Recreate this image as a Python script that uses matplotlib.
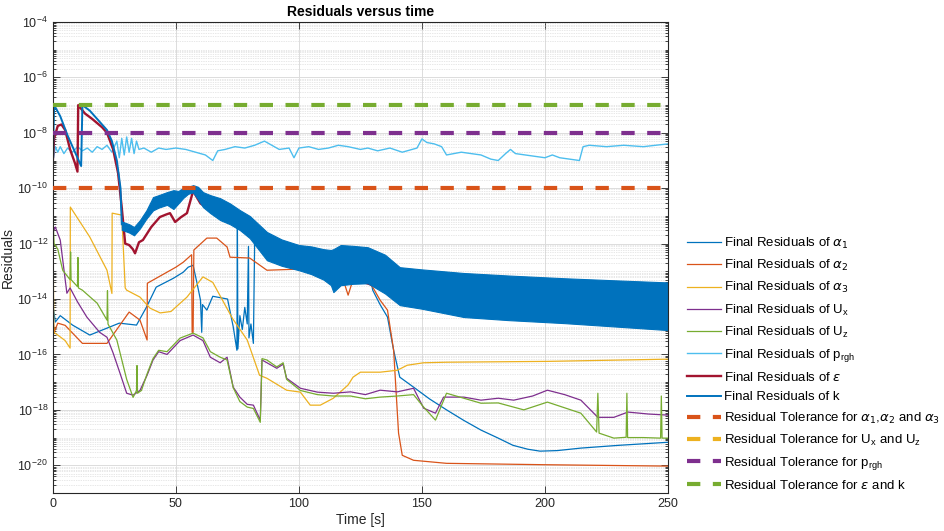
import numpy as np
import matplotlib
matplotlib.use('Agg')
import matplotlib.pyplot as plt
from matplotlib.ticker import LogLocator, NullFormatter, FixedLocator

plt.rcParams['font.family'] = ['Liberation Sans', 'DejaVu Sans']
plt.rcParams['mathtext.fontset'] = 'dejavusans'

# colours (MATLAB default order)
c_a1 = '#0072BD'
c_a2 = '#D95319'
c_a3 = '#EDB120'
c_ux = '#7E2F8E'
c_uz = '#77AC30'
c_p = '#4DBEEE'
c_eps = '#A2142F'
c_k = '#0072BD'

# ---- data: time [s] and log10(residual) ----
a1_t = [0, 1, 3, 8, 15, 22, 27, 34, 38, 42, 49, 53, 55, 57, 58.6, 60, 60.5, 60.8, 62.6, 65, 68, 71,
        73.3, 74.8, 75.0, 75.2, 76, 77, 78, 79, 79.5, 79.7, 80.5, 81.5, 82, 90, 100, 110, 120, 129,
        130, 133, 136, 138.5, 141, 146.6, 153, 160, 167, 174, 181, 187, 193, 198, 205, 214.6, 230, 250]
a1_e = [-14.2, -14.83, -14.6, -14.94, -15.3, -15.05, -14.87, -14.94, -14.3, -13.57, -13.25, -13.03, -12.85,
        -12.78, -13.43, -14.04, -15.2, -14.2, -14.4, -13.9, -13.95, -14.0,
        -15.0, -15.85, -11.4, -15.8, -14.6, -15.1, -14.3, -14.9, -12.1, -15.4, -14.9, -15.6, -12.0, -12.2,
        -12.5, -12.8, -12.9, -13.2,
        -13.68, -14.2, -14.65, -15.85, -16.82, -17.18, -17.6, -18.0, -18.38, -18.73, -19.02, -19.28, -19.42,
        -19.49, -19.47, -19.38, -19.28, -19.17]

a2_t = [0, 0.5, 2, 5, 12, 22, 31, 35.4, 38.3, 38.4, 42, 46.4, 50, 53, 56.4, 56.6, 57.0, 57.3, 62.6, 66.6,
        70.8, 72, 80, 87, 100, 110, 118, 120, 122, 128, 130, 133, 136, 138.5, 140.5, 142, 146.6, 160, 200, 250]
a2_e = [-14.5, -15.2, -14.87, -14.95, -15.6, -15.6, -14.47, -14.76, -15.48, -13.43, -13.25, -13.03, -12.85,
        -12.67, -12.4, -15.2, -15.2, -12.23, -11.8, -11.8,
        -12.12, -12.49, -12.52, -12.96, -12.92, -13.1, -13.3, -13.86, -13.3, -13.4, -13.57, -14.04, -14.4,
        -15.85, -18.84, -19.64, -19.82, -19.93, -19.98, -20.03]

a3_t = [0, 0.4, 2, 5, 7, 7.1, 15, 22, 24, 24.1, 28, 29.4, 30, 35.4, 39.5, 43.6, 48, 54.5, 61, 65, 73, 79,
        84, 87, 95, 100.6, 104.6, 108.7, 114, 120, 122, 125, 133, 140, 144, 150.7, 160, 201, 250]
a3_e = [-10.9, -15.2, -15.3, -15.5, -15.77, -10.68, -11.76, -12.96, -13.8, -10.9, -10.97, -13.6, -13.68,
        -13.93, -14.33, -14.5, -14.45, -13.93, -13.2, -13.4, -14.7, -15.48,
        -16.75, -16.86, -17.29, -17.36, -17.83, -17.83, -17.58, -17.1, -16.82, -16.64, -16.64, -16.57,
        -16.39, -16.3, -16.28, -16.25, -16.17]

ux_t = [0, 1, 3, 5.7, 7, 10, 13.8, 19, 22, 24.5, 27.3, 30, 32.6, 35.4, 38.3, 40.7, 43, 46.4, 51.7, 57,
        61, 64, 68, 70.8, 73.3, 76, 79, 81.5, 84.3, 85, 87, 91, 93.6, 95, 100.6, 107.5, 114, 121, 127,
        133, 140, 146.6, 150.7, 155.5, 158.8, 167, 174, 181, 187.3, 195, 201, 208, 214.6, 221.5, 228,
        233.7, 242, 250]
ux_e = [-11.6, -11.4, -11.87, -13.79, -13.6, -14.1, -14.65, -15.2, -15.38, -15.95, -16.68, -17.4, -17.47,
        -17.3, -16.75, -16.2, -15.9, -16.0, -15.5, -15.3,
        -15.5, -16.1, -16.3, -16.1, -17.18, -17.54, -17.8, -17.83, -18.37, -16.2, -16.3, -16.5, -16.35,
        -16.86, -17.22, -17.36, -17.4, -17.35, -17.45,
        -17.29, -17.35, -17.22, -17.94, -18.12, -17.54, -17.54, -17.65, -17.58, -17.65, -17.5, -17.29,
        -17.45, -17.65, -18.27, -18.27, -18.08, -18.15, -18.19]

uz_t = [0, 0.5, 2, 4, 7, 7.2, 7.4, 10, 10.2, 10.4, 12, 18, 22, 22.2, 22.4, 26, 30, 32.6, 34, 34.2, 34.4,
        36, 38.3, 40.7, 43, 46.4, 51.7, 57, 61, 64, 68, 70.8, 73.3, 76, 79, 81.5, 84.3, 85, 87, 91, 93.6,
        95, 100.6, 107.5, 114, 121, 127, 133, 140, 146.6, 150.7, 155.5, 160, 174, 181, 191.4, 201, 214.6,
        221, 221.5, 222, 228, 233, 233.3, 233.6, 240, 247, 247.3, 247.6, 250]
uz_e = [-11.0, -12.0, -12.2, -12.96, -13.3, -12.3, -13.3, -13.55, -12.5, -13.6, -13.68, -14.15, -14.76,
        -13.7, -14.9, -15.48, -16.9, -17.55, -17.3, -16.4, -17.4,
        -17.3, -16.7, -16.15, -15.85, -15.9, -15.41, -15.23, -15.4, -15.9, -16.1, -16.2, -17.2, -17.7,
        -17.9, -17.95, -18.45, -16.15, -16.2, -16.45, -16.3,
        -16.9, -17.3, -17.45, -17.5, -17.5, -17.6, -17.54, -17.5, -17.45, -17.9, -18.37, -17.4, -17.76,
        -17.75, -18.0, -17.72, -18.12,
        -18.8, -17.4, -18.84, -19.02, -18.99, -17.4, -19.0, -19.0, -19.02, -17.5, -19.02, -19.02]

p_t = [0, 0.3, 1, 2, 3, 4.5, 6, 8, 10, 12, 14, 16, 18, 20, 22, 24, 26, 27, 28, 29, 30, 31, 32, 33, 34, 35,
       37, 40, 43, 46, 50, 54, 58, 62, 65, 67, 70, 74, 78, 82, 86, 88, 92, 96, 98, 100, 104, 108, 112, 116,
       120, 125, 128, 132, 137, 142, 148, 150, 152, 155, 158, 160, 163, 166, 170, 174, 178, 181, 184, 186,
       188, 192, 196, 200, 203, 206, 210, 214, 215.5, 218, 225, 232, 240, 245, 250]
p_e = [-8.4, -8.9, -8.5, -8.7, -8.5, -8.75, -8.55, -8.7, -8.5, -8.65, -8.55, -8.7, -8.5, -8.6, -8.45, -8.7,
       -8.3, -8.9, -8.2, -8.8, -8.15, -8.7, -8.2, -8.75, -8.3, -8.6,
       -8.55, -8.7, -8.55, -8.6, -8.55, -8.6, -8.7, -8.8, -9.0, -8.65, -8.6, -8.5, -8.55, -8.45, -8.3, -8.4,
       -8.6, -8.55, -8.9, -8.55, -8.5, -8.6, -8.55, -8.45,
       -8.5, -8.6, -8.55, -8.65, -8.55, -8.7, -8.55, -8.22, -8.35, -8.4, -8.5, -8.8, -8.75, -8.7, -8.75,
       -8.8, -8.95, -9.0, -8.75, -8.6,
       -8.75, -8.8, -8.85, -8.9, -8.8, -8.9, -8.95, -9.0, -8.5, -8.45, -8.5, -8.45, -8.5, -8.45, -8.4]

eps_t = [0, 0.5, 2, 3.5, 5, 7, 9, 10, 10.3, 13, 16, 20, 22, 24.5, 26.5, 28, 29.4, 31, 32.5, 33.4, 35, 36.6,
         40, 43.5, 46, 47.6, 49.7, 52, 54.5, 57, 60, 66, 72, 80, 100, 140, 250]
eps_e = [-9.0, -8.2, -7.75, -7.7, -7.9, -8.6, -9.1, -9.4, -7.0, -7.3, -7.5, -7.8, -8.0, -8.6, -9.45, -10.7,
         -12.0, -12.05, -12.2, -12.35, -11.95, -11.87,
         -11.4, -11.04, -10.95, -10.9, -11.22, -11.05, -10.9, -10.1, -10.55, -10.9, -11.2, -11.5, -12.6,
         -13.8, -14.5]

k_t = [0, 0.5, 3, 6, 9, 11.5, 12, 15, 19, 22, 24, 26, 27.5, 28]
k_e = [-9.0, -7.0, -7.4, -8.1, -8.7, -9.2, -7.0, -7.2, -7.6, -7.9, -8.3, -9.0, -10.0, -11.3]

# oscillating band of k: upper / lower envelope
kb_t = [28, 31, 33, 35.4, 38, 40.7, 43, 46.4, 49, 51, 53, 55, 57, 59, 61, 64, 68, 72, 76, 80, 87, 93,
        100, 105, 110, 113, 114, 117, 122, 128, 135, 141, 150, 167, 185, 208, 230, 250]
kb_hi = [-11.2, -11.3, -11.4, -11.15, -10.8, -10.32, -10.25, -10.14, -10.07, -10.1, -9.99, -9.95, -9.89,
         -9.95, -10.14, -10.25, -10.36, -10.55, -10.79, -11.0, -11.58, -11.85,
         -12.05, -12.1, -12.2, -12.23, -12.2, -12.05, -12.08, -12.13, -12.4, -12.85, -12.93, -13.06,
         -13.15, -13.25, -13.33, -13.4]
kb_lo = [-11.5, -11.6, -11.7, -11.45, -11.1, -10.8, -10.7, -10.6, -10.75, -10.55, -10.35, -10.2, -10.15,
         -10.4, -10.68, -10.9, -11.15, -11.3, -11.51, -11.8, -12.6, -12.8,
         -12.96, -13.1, -13.3, -13.5, -13.75, -13.5, -13.45, -13.43, -13.8, -14.22, -14.35, -14.65,
         -14.76, -14.87, -15.0, -15.12]

# tolerances
tol_alpha = 1e-10
tol_u = 1e-3
tol_p = 1e-8
tol_epsk = 1e-7

labels = [r'Final Residuals of $\alpha_1$', r'Final Residuals of $\alpha_2$',
          r'Final Residuals of $\alpha_3$', r'Final Residuals of U$_\mathregular{x}$',
          r'Final Residuals of U$_\mathregular{z}$', r'Final Residuals of p$_\mathregular{rgh}$',
          r'Final Residuals of $\epsilon$', 'Final Residuals of k',
          r'Residual Tolerance for $\alpha_1$,$\alpha_2$ and $\alpha_3$',
          r'Residual Tolerance for U$_\mathregular{x}$ and U$_\mathregular{z}$',
          r'Residual Tolerance for p$_\mathregular{rgh}$',
          r'Residual Tolerance for $\epsilon$ and k']


def pw(e):
    return 10.0 ** np.array(e)


fig = plt.figure(figsize=(9.44, 5.31), dpi=100)
ax = fig.add_axes([0.056, 0.0716, 0.6516, 0.887])

lw = 0.9
ax.plot(a1_t, pw(a1_e), color=c_a1, lw=lw, label=labels[0])
ax.plot(a2_t, pw(a2_e), color=c_a2, lw=lw, label=labels[1])
ax.plot(a3_t, pw(a3_e), color=c_a3, lw=lw, label=labels[2])
ax.plot(ux_t, pw(ux_e), color=c_ux, lw=lw, label=labels[3])
ax.plot(uz_t, pw(uz_e), color=c_uz, lw=lw, label=labels[4])
ax.plot(p_t, pw(p_e), color=c_p, lw=1.0, label=labels[5])
ax.plot(eps_t, pw(eps_e), color=c_eps, lw=1.7, label=labels[6])
ax.plot(k_t, pw(k_e), color=c_k, lw=1.4, label=labels[7])
ax.fill_between(kb_t, pw(kb_hi), pw(kb_lo), color=c_k, lw=0.8, edgecolor=c_k, zorder=2.5)

dash = (3.2, 3.0)
xs = [0, 250]
ax.plot(xs, [tol_alpha] * 2, color=c_a2, lw=3, dashes=dash, label=labels[8], zorder=3)
ax.plot(xs, [tol_u] * 2, color=c_a3, lw=3, dashes=dash, label=labels[9], zorder=3)
ax.plot(xs, [tol_p] * 2, color=c_ux, lw=3, dashes=dash, label=labels[10], zorder=3)
ax.plot(xs, [tol_epsk] * 2, color=c_uz, lw=3, dashes=dash, label=labels[11], zorder=3)

ax.set_yscale('log')
ax.set_xlim(0, 250)
ax.set_ylim(1e-21, 1e-4)
ax.set_xticks([0, 50, 100, 150, 200, 250])
ax.yaxis.set_major_locator(FixedLocator([10.0 ** e for e in range(-20, -3, 2)]))
ax.yaxis.set_minor_locator(LogLocator(base=10, subs=np.arange(1, 10), numticks=300))
ax.yaxis.set_minor_formatter(NullFormatter())

ax.grid(True, which='major', color='#dcdcdc', lw=0.7, ls='-')
ax.grid(True, which='minor', axis='y', color='#d0d0d0', lw=0.5, ls=(0, (1, 1.5)))
ax.set_axisbelow(True)

ax.tick_params(which='both', direction='in', top=True, right=True, colors='#262626',
               labelsize=9, width=0.6)
ax.tick_params(which='major', length=5)
ax.tick_params(which='minor', length=2.5)
for s in ax.spines.values():
    s.set_color('#262626')
    s.set_linewidth(0.8)

ax.set_title('Residuals versus time', fontsize=10, fontweight='bold', pad=4)
ax.set_xlabel('Time [s]', fontsize=10, color='#262626', labelpad=2)
ax.set_ylabel('Residuals', fontsize=10, color='#262626', labelpad=2)

fig.legend(loc='upper left', bbox_to_anchor=(0.722, 0.566), frameon=False, fontsize=9.5,
           handlelength=2.6, handletextpad=0.2, labelspacing=0.54, borderaxespad=0)

fig.savefig('out.png', dpi=100)
